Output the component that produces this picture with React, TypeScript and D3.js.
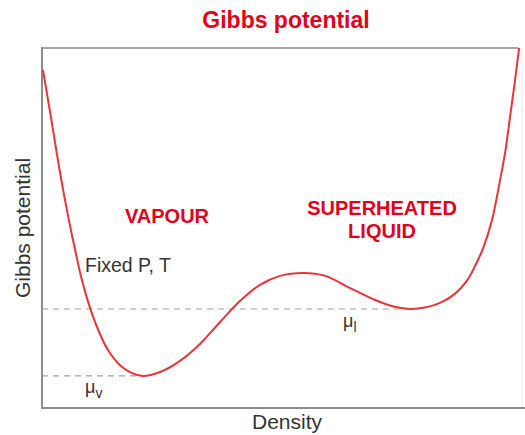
import React from "react";
import * as d3 from "d3";

const densityValues = [0.2, 1.25, 2.3, 3.3, 4.4, 5.6, 6.9, 8.3, 10.0, 11.7, 13.75, 16.25, 18.75, 21.0, 24.6, 28.75, 32.9, 37.1, 41.25, 45.4, 49.6, 54.4, 59.0, 64.2, 69.4, 73.5, 76.7, 79.8, 82.9, 86.0, 88.5, 90.2, 91.9, 93.75, 95.4, 96.5, 97.5, 98.5, 99.4];
const gibbsValues = [93.9, 85.6, 77.2, 68.9, 60.6, 52.2, 43.9, 35.6, 27.8, 21.7, 16.1, 11.9, 9.7, 8.9, 10.0, 13.1, 17.8, 23.9, 29.7, 34.2, 36.7, 37.5, 36.7, 33.3, 30.0, 28.1, 27.5, 27.9, 29.2, 31.7, 35.3, 39.4, 44.4, 52.2, 63.1, 71.1, 80.8, 90.6, 100];
const muNames = ["v", "l"];
const muValues = [8.9, 27.5];
const muEnds = [21.0, 76.7];

const W = 525;
const H = 435;
const left = 42;
const right = 522;
const top = 48;
const bottom = 408;

const RED = "#e2001a";
const CURVE = "#e8343a";

export default function App() {
  const x = d3.scaleLinear().domain([0, 100]).range([left, right]);
  const y = d3.scaleLinear().domain([0, 100]).range([bottom, top]);
  const pts: [number, number][] = densityValues.map((d, i) => [d, gibbsValues[i]]);
  const line = d3
    .line<[number, number]>()
    .x((d) => x(d[0]))
    .y((d) => y(d[1]))
    .curve(d3.curveCatmullRom.alpha(0.5));

  const font = "Liberation Sans, Arial, Helvetica, sans-serif";

  return (
    <svg
      width={W}
      height={H}
      style={{ position: "absolute", left: 0, top: 0, background: "#fff" }}
      fontFamily={font}
    >
      <text x={286} y={28} textAnchor="middle" fontSize={23} fontWeight="bold" fill={RED}>
        Gibbs potential
      </text>
      {/* frame */}
      <line x1={right} x2={right} y1={top} y2={bottom} stroke="#eeeeee" strokeWidth={1} />
      <line x1={left} x2={518} y1={top} y2={top} stroke="#a8a8a8" strokeWidth={2} />
      <line x1={left} x2={left} y1={top - 1} y2={bottom + 1} stroke="#8c8c8c" strokeWidth={2} />
      <line x1={left} x2={W} y1={bottom} y2={bottom} stroke="#8c8c8c" strokeWidth={2} />

      {muValues.map((m, i) => (
        <line
          key={"mu" + i}
          x1={x(0)}
          x2={x(muEnds[i])}
          y1={y(m)}
          y2={y(m)}
          stroke="#a0a0a0"
          strokeWidth={1.2}
          strokeDasharray="6,5"
        />
      ))}

      <path d={line(pts) || ""} fill="none" stroke={CURVE} strokeWidth={2} />

      <text x={167} y={223} textAnchor="middle" fontSize={20} fontWeight="bold" fill={RED}>
        VAPOUR
      </text>
      <text x={382} y={215} textAnchor="middle" fontSize={20} fontWeight="bold" fill={RED}>
        SUPERHEATED
      </text>
      <text x={382} y={238} textAnchor="middle" fontSize={20} fontWeight="bold" fill={RED}>
        LIQUID
      </text>
      <text x={85} y={272} fontSize={19.5} fill="#333">
        Fixed P, T
      </text>

      <text x={85} y={393} fontSize={18} fill="#333">
        μ<tspan fontSize={14} dy={5}>{muNames[0]}</tspan>
      </text>
      <text x={343} y={327} fontSize={18} fill="#333">
        μ<tspan fontSize={14} dy={5}>{muNames[1]}</tspan>
      </text>

      <text x={287} y={429} textAnchor="middle" fontSize={21} fill="#333">
        Density
      </text>
      <text
        transform="translate(30,228) rotate(-90)"
        textAnchor="middle"
        fontSize={21}
        fill="#333"
      >
        Gibbs potential
      </text>
    </svg>
  );
}
